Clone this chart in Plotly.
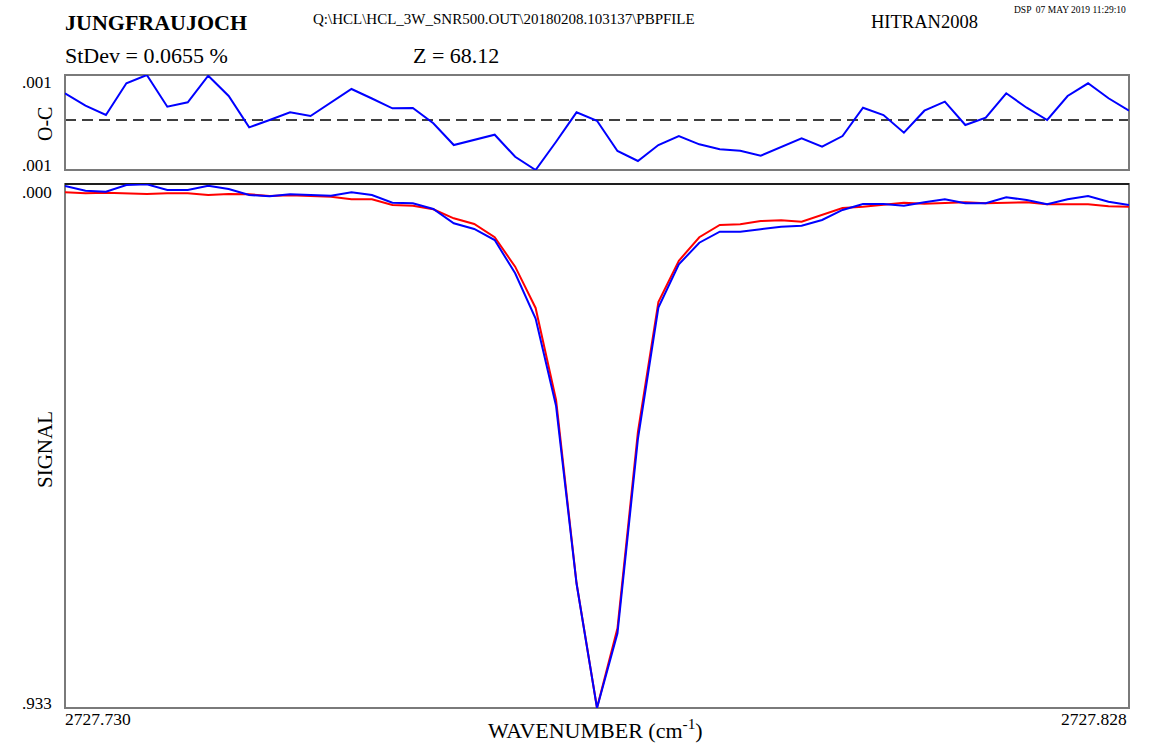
import plotly.graph_objects as go

# Spectral grid (cm-1)
wavenumber = [
    2727.730000, 2727.731885, 2727.733769, 2727.735654, 2727.737538, 2727.739423,
    2727.741308, 2727.743192, 2727.745077, 2727.746962, 2727.748846, 2727.750731,
    2727.752615, 2727.754500, 2727.756385, 2727.758269, 2727.760154, 2727.762038,
    2727.763923, 2727.765808, 2727.767692, 2727.769577, 2727.771462, 2727.773346,
    2727.775231, 2727.777115, 2727.779000, 2727.780885, 2727.782769, 2727.784654,
    2727.786538, 2727.788423, 2727.790308, 2727.792192, 2727.794077, 2727.795962,
    2727.797846, 2727.799731, 2727.801615, 2727.803500, 2727.805385, 2727.807269,
    2727.809154, 2727.811038, 2727.812923, 2727.814808, 2727.816692, 2727.818577,
    2727.820462, 2727.822346, 2727.824231, 2727.826115, 2727.828000,
]

# Observed spectrum (blue)
observed = [
    0.99974, 0.99914, 0.99902, 0.99987, 0.99996, 0.99923, 0.99923, 0.99978, 0.99936,
    0.99859, 0.99843, 0.99868, 0.99859, 0.99850, 0.99894, 0.99859, 0.99761, 0.99753,
    0.99680, 0.99498, 0.99425, 0.99284, 0.98858, 0.98280, 0.97161, 0.94892, 0.93300,
    0.94255, 0.96740, 0.98421, 0.98973, 0.99249, 0.99390, 0.99390, 0.99421, 0.99454,
    0.99467, 0.99540, 0.99668, 0.99744, 0.99744, 0.99723, 0.99766, 0.99804, 0.99753,
    0.99753, 0.99830, 0.99795, 0.99740, 0.99804, 0.99847, 0.99774, 0.99731,
]

# Calculated spectrum (red)
calculated = [
    0.99894, 0.99881, 0.99889, 0.99885, 0.99872, 0.99881, 0.99881, 0.99859, 0.99872,
    0.99868, 0.99847, 0.99856, 0.99847, 0.99838, 0.99804, 0.99804, 0.99731, 0.99723,
    0.99677, 0.99561, 0.99489, 0.99319, 0.98943, 0.98415, 0.97238, 0.94898, 0.93302,
    0.94319, 0.96829, 0.98491, 0.99019, 0.99319, 0.99476, 0.99485, 0.99527, 0.99536,
    0.99518, 0.99604, 0.99693, 0.99710, 0.99740, 0.99761, 0.99748, 0.99757, 0.99766,
    0.99753, 0.99757, 0.99766, 0.99740, 0.99740, 0.99740, 0.99715, 0.99710,
]

# Residuals, observed minus calculated
o_minus_c = [
    0.000712, 0.000381, 0.000133, 0.000979, 0.001200, 0.000355, 0.000472, 0.001181,
    0.000640, -0.000195, 0.000000, 0.000205, 0.000107, 0.000461, 0.000827, 0.000573,
    0.000312, 0.000320, -0.000088, -0.000667, -0.000533, -0.000392, -0.000979,
    -0.001333, -0.000579, 0.000205, -0.000019, -0.000827, -0.001093, -0.000667,
    -0.000427, -0.000648, -0.000781, -0.000819, -0.000952, -0.000728, -0.000488,
    -0.000712, -0.000427, 0.000328, 0.000133, -0.000339, 0.000248, 0.000488,
    -0.000133, 0.000061, 0.000712, 0.000328, 0.000000, 0.000640, 0.000979,
    0.000579, 0.000248,
]

# Header and axis texts
site = "JUNGFRAUJOCH"
source_file = "Q:\\HCL\\HCL_3W_SNR500.OUT\\20180208.103137\\PBPFILE"
linelist = "HITRAN2008"
stamp = "DSP  07 MAY 2019 11:29:10"
stdev_text = "StDev = 0.0655 %"
zenith_text = "Z = 68.12"
x_left_label = "2727.730"
x_right_label = "2727.828"
oc_top_label = ".001"
oc_bottom_label = ".001"
sig_top_label = ".000"
sig_bottom_label = ".933"

W, H = 1157, 744
L, R, T, B = 65, 1129.5, 75, 708
TOP_PANEL_BOTTOM = 170
LOW_PANEL_TOP = 184


def fx(px):
    return (px - L) / (R - L)


def fy(py):
    return (B - py) / (B - T)


SERIF = "Liberation Serif, Times New Roman, serif"
BLUE = "#0000ff"
RED = "#ff0000"
GRAY = "#7a7a7a"

fig = go.Figure()

fig.add_trace(go.Scatter(
    x=wavenumber, y=calculated, mode="lines",
    line=dict(color=RED, width=2), xaxis="x", yaxis="y", showlegend=False,
))
fig.add_trace(go.Scatter(
    x=wavenumber, y=observed, mode="lines",
    line=dict(color=BLUE, width=2), xaxis="x", yaxis="y", showlegend=False,
))
fig.add_trace(go.Scatter(
    x=wavenumber, y=o_minus_c, mode="lines",
    line=dict(color=BLUE, width=2), xaxis="x2", yaxis="y2", showlegend=False,
))

x_range = [wavenumber[0], wavenumber[-1]]
hidden = dict(showgrid=False, zeroline=False, showticklabels=False,
              showline=False, ticks="")

fig.update_layout(
    width=W, height=H,
    margin=dict(l=L, r=W - R, t=T, b=H - B, pad=0),
    paper_bgcolor="white", plot_bgcolor="white",
    xaxis=dict(range=x_range, domain=[0, 1], anchor="y", **hidden),
    yaxis=dict(range=[min(observed), 1.000], domain=[0, fy(LOW_PANEL_TOP)],
               anchor="x", **hidden),
    xaxis2=dict(range=x_range, domain=[0, 1], anchor="y2", matches="x", **hidden),
    yaxis2=dict(range=[min(o_minus_c), max(o_minus_c)],
                domain=[fy(TOP_PANEL_BOTTOM), 1], anchor="x2", **hidden),
    font=dict(family=SERIF, color="black"),
)

shapes = [
    # zero line of the residual panel
    dict(type="line", xref="x2 domain", yref="y2", x0=0, x1=1, y0=0, y1=0,
         line=dict(color="black", width=1.3, dash="11px,6px"), layer="below"),
    # residual panel frame
    dict(type="rect", xref="paper", yref="paper", x0=0, x1=1,
         y0=fy(TOP_PANEL_BOTTOM), y1=1, line=dict(color=GRAY, width=2),
         layer="below"),
    # signal panel frame
    dict(type="rect", xref="paper", yref="paper", x0=0, x1=1,
         y0=0, y1=fy(LOW_PANEL_TOP), line=dict(color=GRAY, width=2),
         layer="below"),
    dict(type="line", xref="paper", yref="paper", x0=0, x1=1,
         y0=fy(LOW_PANEL_TOP), y1=fy(LOW_PANEL_TOP),
         line=dict(color="black", width=1.6), layer="below"),
]
fig.update_layout(shapes=shapes)


def label(text, x, y, size, xanchor="left", yanchor="middle", bold=False,
          angle=0):
    if bold:
        text = "<b>" + text + "</b>"
    fig.add_annotation(
        text=text, xref="paper", yref="paper", x=fx(x), y=fy(y),
        xanchor=xanchor, yanchor=yanchor, showarrow=False, textangle=angle,
        font=dict(family=SERIF, size=size, color="black"), borderpad=0,
    )


label(site, 64, 23, 22, bold=True)
label(source_file, 312, 19, 15)
label(linelist, 870, 22, 18.5)
label(stamp, 1127, 10, 9.5, xanchor="right")
label(stdev_text, 64, 55, 22)
label(zenith_text, 412, 55, 22)

label(oc_top_label, 53, 83, 17, xanchor="right")
label(oc_bottom_label, 53, 165, 17, xanchor="right")
label(sig_top_label, 53, 192, 17, xanchor="right")
label(sig_bottom_label, 53, 703, 17, xanchor="right")

label("O-C", 45, 124, 20, xanchor="center", angle=-90)
label("SIGNAL", 45, 450, 21, xanchor="center", angle=-90)

label(x_left_label, 64, 719, 17.5)
label(x_right_label, 1128, 719, 17.5, xanchor="right")
label("WAVENUMBER (cm<sup>-1</sup>)", 596, 729, 22, xanchor="center")

fig.write_html("out.html")
